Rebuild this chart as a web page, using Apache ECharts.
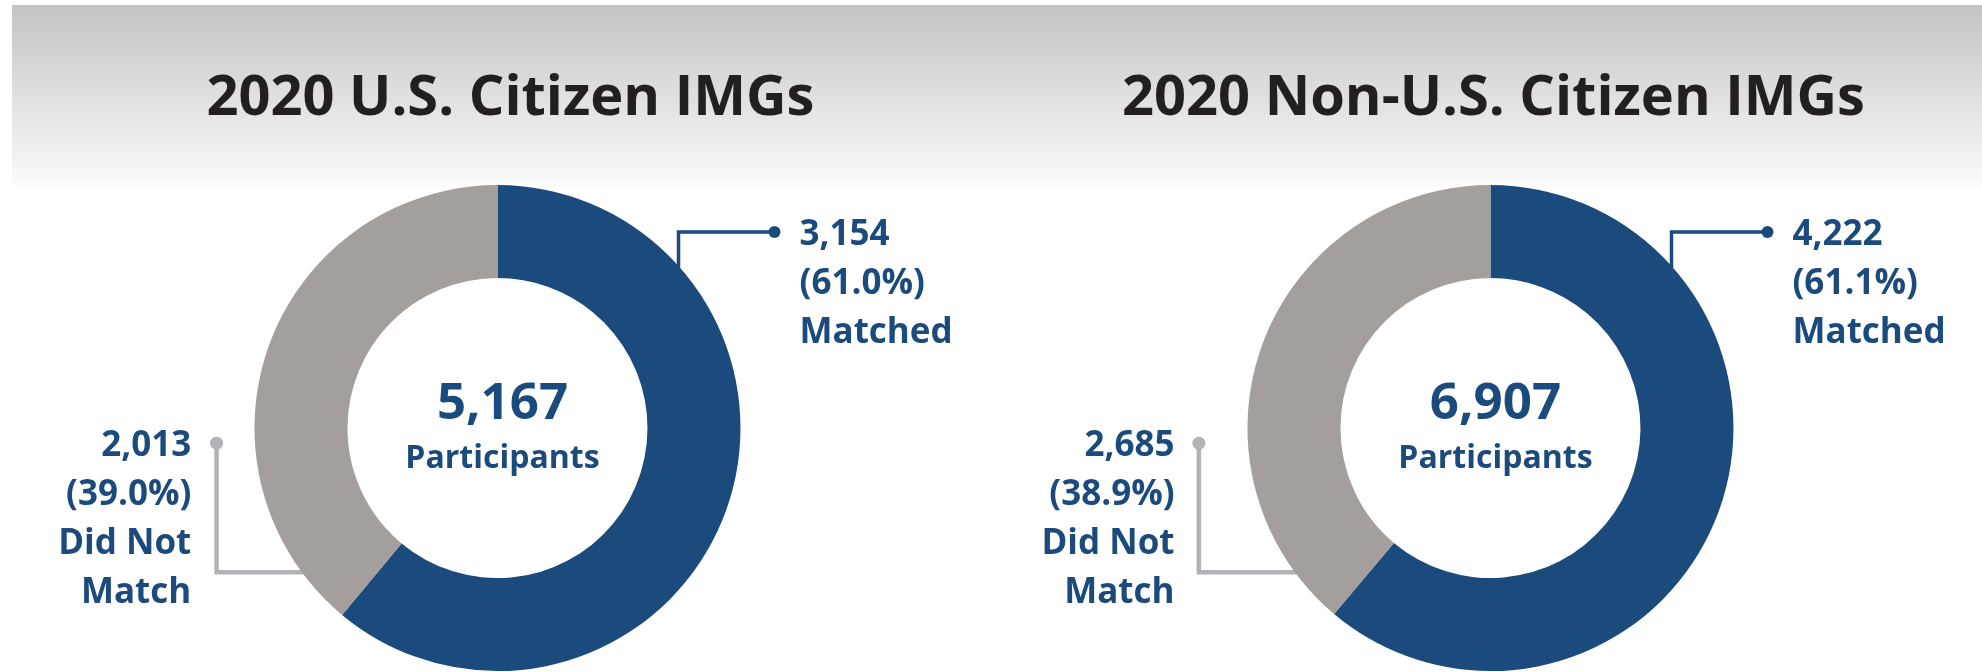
<!DOCTYPE html>
<html><head><meta charset="utf-8">
<script src="https://cdn.jsdelivr.net/npm/echarts@6/dist/echarts.min.js"></script>
<style>html,body{margin:0;padding:0;background:#fff}#c{width:1982px;height:672px}</style>
</head><body><div id="c"></div>
<script>
// ---- data ----
const chartTitles = ['2020 U.S. Citizen IMGs', '2020 Non-U.S. Citizen IMGs'];
const categories = ['Matched', 'Did Not\nMatch'];
const matchedValues = [3154, 4222];
const notMatchedValues = [2013, 2685];
const centerCaption = 'Participants';

// ---- style ----
const BLUE = '#1b4a7c', GREY = '#a49e9c', LEADER_GREY = '#b2b3b7', TITLE_COLOR = '#231f20';
const FONT = '"Open Sans", sans-serif';
const centersX = ['25.1%', '75.2%'];
const titleX = ['25.5%', '75.1%'];
const centerY = '63.7%';
const R0 = 150, R = 243;
const LINE_H = 49;
// leader offsets for the "did not match" label, per chart (relative to radius)
const greyLeaderX = [1.156, 1.2];
const greyLabelX = [1.26, 1.3];

const chart = echarts.init(document.getElementById('c'), null, { renderer: 'canvas' });
const fmt = v => v.toLocaleString('en-US');

function geom(cx, cy, r, idx, s) {
  if (idx === 0) {
    const vx = cx + 0.745 * r;
    const ey = cy - Math.sqrt(r * r - (vx - cx) * (vx - cx)) + 2;
    const hy = cy - 0.807 * r;
    const ex = cx + 1.14 * r;
    return { pts: [[vx, ey], [vx, hy], [ex, hy]], dot: [ex, hy], lx: cx + 1.243 * r, ly: hy + 3, align: 'left' };
  } else {
    const hy = cy + 0.593 * r;
    const ex = cx - Math.sqrt(r * r - (hy - cy) * (hy - cy)) + 2;
    const vx = cx - greyLeaderX[s] * r;
    const dy = cy + 0.062 * r;
    return { pts: [[ex, hy], [vx, hy], [vx, dy]], dot: [vx, dy], lx: cx - greyLabelX[s] * r, ly: dy + 3, align: 'right' };
  }
}

function layoutOf(seriesIndex, dataIndex) {
  return chart.getModel().getSeriesByIndex(seriesIndex).getData().getItemLayout(dataIndex);
}

const bgRect = {
  type: 'rect', id: 'bg', left: 12, top: 5, z: -10, silent: true,
  shape: { width: 1982 - 12, height: 185 },
  style: {
    fill: new echarts.graphic.LinearGradient(0, 0, 0, 1, [
      { offset: 0, color: '#c2c3c5' },
      { offset: 0.55, color: '#e3e3e4' },
      { offset: 0.92, color: '#f7f7f7' },
      { offset: 1, color: '#ffffff' }
    ])
  }
};

const series = [0, 1].map(k => ({
  type: 'pie',
  center: [centersX[k], centerY],
  radius: [R0, R],
  startAngle: 90,
  clockwise: true,
  avoidLabelOverlap: false,
  percentPrecision: 1,
  emphasis: { disabled: true },
  animation: false,
  data: [
    { name: categories[0], value: matchedValues[k], itemStyle: { color: BLUE },
      labelLine: { lineStyle: { color: BLUE, width: 3.5 } } },
    { name: categories[1], value: notMatchedValues[k], itemStyle: { color: GREY },
      labelLine: { lineStyle: { color: LEADER_GREY, width: 4.5 } } }
  ],
  label: {
    show: true,
    position: 'outside',
    formatter: p => fmt(p.value) + '\n(' + p.percent.toFixed(1) + '%)\n' + p.name,
    color: BLUE,
    fontFamily: FONT,
    fontWeight: 'bold',
    fontSize: 35,
    lineHeight: LINE_H
  },
  labelLine: { show: true, smooth: false, length: 20, length2: 20 },
  labelLayout: function (p) {
    const l = layoutOf(p.seriesIndex, p.dataIndex);
    const g = geom(l.cx, l.cy, l.r, p.dataIndex, p.seriesIndex);
    return {
      x: g.lx, y: g.ly - LINE_H / 2,
      align: g.align, verticalAlign: 'top',
      labelLinePoints: g.pts
    };
  }
}));

const titles = [];
[0, 1].forEach(k => {
  titles.push({
    text: chartTitles[k], left: titleX[k], top: 66, textAlign: 'center',
    textStyle: { fontSize: 56, fontWeight: 'bold', color: TITLE_COLOR, fontFamily: FONT }
  });
  titles.push({
    text: fmt(matchedValues[k] + notMatchedValues[k]), subtext: centerCaption,
    left: centersX[k], top: 374, textAlign: 'center', itemGap: 13,
    textStyle: { fontSize: 51, fontWeight: 'bold', color: BLUE, fontFamily: FONT },
    subtextStyle: { fontSize: 32, fontWeight: 'bold', color: BLUE, fontFamily: FONT }
  });
});

chart.setOption({
  backgroundColor: '#ffffff',
  animation: false,
  title: titles,
  graphic: [bgRect],
  series: series
});

// dots at the end of the leader lines, from the pie layout
const dots = [bgRect];
[0, 1].forEach(s => {
  [0, 1].forEach(i => {
    const l = layoutOf(s, i);
    const g = geom(l.cx, l.cy, l.r, i, s);
    dots.push({
      type: 'circle', id: 'dot' + s + i, z: 10, silent: true,
      shape: { cx: g.dot[0], cy: g.dot[1], r: i === 0 ? 6 : 6.5 },
      style: { fill: i === 0 ? BLUE : LEADER_GREY }
    });
  });
});
chart.setOption({ graphic: dots });
</script>
</body></html>
